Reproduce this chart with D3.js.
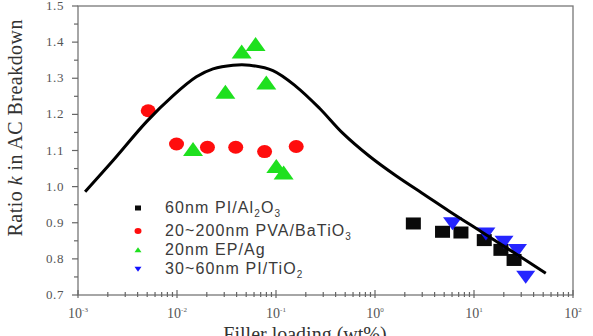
<!DOCTYPE html>
<meta charset="utf-8">
<style>
body { margin: 0; background: #fff; }
.tick-label { font-family: "Liberation Serif", "Times New Roman", serif; font-size: 13px; fill: #555; }
.axis-title { font-family: "Liberation Serif", "Times New Roman", serif; font-size: 20px; fill: #333; }
.legend text { font-family: "Liberation Sans", Arial, sans-serif; font-size: 16px; letter-spacing: 1.1px; fill: #3a3a3a; }
</style>
<svg width="593" height="336"></svg>
<script src="https://d3js.org/d3.v7.min.js"></script>
<script>

// fitted curve
var curveX = [0.00118, 0.00227, 0.00493, 0.00914, 0.0157, 0.0231, 0.0368, 0.0542, 0.0931, 0.160, 0.275, 0.472, 0.879, 1.63, 3.27, 5.62, 12.2, 26.4, 53.1];
var curveY = [0.986, 1.073, 1.180, 1.252, 1.304, 1.326, 1.336, 1.336, 1.321, 1.277, 1.217, 1.148, 1.084, 1.030, 0.975, 0.932, 0.873, 0.814, 0.760];

// 60nm PI/Al2O3
var alX = [2.44, 4.81, 7.38, 12.7, 18.7, 25.4];
var alY = [0.898, 0.875, 0.873, 0.852, 0.825, 0.797];
// 20~200nm PVA/BaTiO3
var baX = [0.00512, 0.00989, 0.0203, 0.0392, 0.0767, 0.160];
var baY = [1.210, 1.118, 1.109, 1.109, 1.097, 1.111];
// 20nm EP/Ag
var agX = [0.0450, 0.0622, 0.0308, 0.0798, 0.01452, 0.1007, 0.1194];
var agY = [1.372, 1.393, 1.261, 1.286, 1.102, 1.055, 1.037];
// 30~60nm PI/TiO2
var tiX = [6.07, 13.2, 20.1, 27.5, 33.3];
var tiY = [0.899, 0.871, 0.848, 0.825, 0.751];

var yTicks = [0.7, 0.8, 0.9, 1.0, 1.1, 1.2, 1.3, 1.4, 1.5];
var xExponents = [-3, -2, -1, 0, 1, 2];

var svg = d3.select("svg");

var x = d3.scaleLog().domain([1e-3, 1e2]).range([78, 573]);
var y = d3.scaleLinear().domain([0.7, 1.5]).range([295, 6]);

// frame
svg.append("rect")
    .attr("x", 78).attr("y", 6)
    .attr("width", 573 - 78).attr("height", 295 - 6)
    .attr("fill", "none").attr("stroke", "#777").attr("stroke-width", 1.3);

// y ticks (major + minor), outward
var yg = svg.append("g").attr("stroke", "#666").attr("stroke-width", 1.2);
d3.range(0.7, 1.5001, 0.05).forEach(function(v) {
  var major = Math.abs(Math.round(v * 10) - v * 10) < 1e-6;
  yg.append("line")
      .attr("x1", 78 - (major ? 6 : 4)).attr("x2", 78)
      .attr("y1", y(v)).attr("y2", y(v));
});
svg.selectAll(".ylab")
    .data(yTicks).enter()
    .append("text")
    .attr("class", "tick-label")
    .attr("x", 64).attr("y", function(d) { return y(d) + 4; })
    .attr("text-anchor", "end")
    .attr("letter-spacing", "0.6px")
    .text(function(d) { return d.toFixed(1); });

// x ticks (major + minor), crossing the axis
var xg = svg.append("g").attr("stroke", "#666").attr("stroke-width", 1.2);
xExponents.forEach(function(e) {
  for (var m = 1; m <= 9; m++) {
    if (e === 2 && m > 1) break;
    var v = m * Math.pow(10, e);
    xg.append("line")
        .attr("x1", x(v)).attr("x2", x(v))
        .attr("y1", 295 - (m === 1 ? 5 : 3)).attr("y2", 295 + (m === 1 ? 3 : 2));
  }
});
var xl = svg.selectAll(".xlab")
    .data(xExponents).enter()
    .append("text")
    .attr("class", "tick-label")
    .attr("x", function(d) { return x(Math.pow(10, d)); })
    .attr("y", 318)
    .attr("text-anchor", "middle");
xl.append("tspan").attr("font-size", "14px").text("10");
xl.append("tspan").attr("dy", -6).attr("font-size", "7px").text(function(d) { return d; });

// axis titles
svg.append("text")
    .attr("class", "axis-title")
    .attr("transform", "translate(22,128) rotate(-90)")
    .attr("text-anchor", "middle")
    .attr("textLength", 217)
    .html('Ratio <tspan font-style="italic">k</tspan> in AC Breakdown');
svg.append("text")
    .attr("class", "axis-title")
    .attr("x", 305).attr("y", 341)
    .attr("text-anchor", "middle")
    .text("Filler loading (wt%)");

// marker shapes
function tri(w, h, down) {
  var s = down ? -1 : 1;
  return "M0," + (-s * h * 0.55) + "L" + (w / 2) + "," + (s * h * 0.45) + "L" + (-w / 2) + "," + (s * h * 0.45) + "Z";
}

// PVA/BaTiO3 circles
svg.append("g").selectAll("ellipse")
    .data(d3.zip(baX, baY)).enter()
    .append("ellipse")
    .attr("cx", function(d) { return x(d[0]); })
    .attr("cy", function(d) { return y(d[1]); })
    .attr("rx", 7.5).attr("ry", 6.5)
    .attr("fill", "#ff0d0d");

// EP/Ag triangles
svg.append("g").selectAll("path")
    .data(d3.zip(agX, agY)).enter()
    .append("path")
    .attr("d", tri(20, 14, false))
    .attr("transform", function(d) { return "translate(" + x(d[0]) + "," + y(d[1]) + ")"; })
    .attr("fill", "#1ee01e");

// PI/Al2O3 squares
svg.append("g").selectAll("rect")
    .data(d3.zip(alX, alY)).enter()
    .append("rect")
    .attr("x", function(d) { return x(d[0]) - 7.5; })
    .attr("y", function(d) { return y(d[1]) - 6; })
    .attr("width", 15).attr("height", 12)
    .attr("fill", "#0a0a0a");

// PI/TiO2 down triangles
svg.append("g").selectAll("path")
    .data(d3.zip(tiX, tiY)).enter()
    .append("path")
    .attr("d", tri(19, 13, true))
    .attr("transform", function(d) { return "translate(" + x(d[0]) + "," + y(d[1]) + ")"; })
    .attr("fill", "#1212ff")
    .attr("fill-opacity", 0.92);

// fitted curve
var line = d3.line()
    .x(function(d) { return x(d[0]); })
    .y(function(d) { return y(d[1]); })
    .curve(d3.curveCatmullRom.alpha(0.5));
svg.append("path")
    .datum(d3.zip(curveX, curveY))
    .attr("d", line)
    .attr("fill", "none")
    .attr("stroke", "#000")
    .attr("stroke-width", 3);

// legend
var legendRows = [
  { y: 208, color: "#0a0a0a", shape: "square", html: '60nm PI/Al<tspan dy="4" font-size="10px">2</tspan><tspan dy="-4">O</tspan><tspan dy="4" font-size="10px">3</tspan>' },
  { y: 231, color: "#ff0d0d", shape: "circle", html: '20~200nm PVA/BaTiO<tspan dy="4" font-size="10px">3</tspan>' },
  { y: 250, color: "#1ee01e", shape: "up", html: '20nm EP/Ag' },
  { y: 269, color: "#1212ff", shape: "down", html: '30~60nm PI/TiO<tspan dy="4" font-size="10px">2</tspan>' }
];
var lg = svg.append("g").attr("class", "legend");
legendRows.forEach(function(r) {
  if (r.shape === "square") {
    lg.append("rect").attr("x", 135).attr("y", r.y - 2.5).attr("width", 6).attr("height", 5).attr("fill", r.color);
  } else if (r.shape === "circle") {
    lg.append("ellipse").attr("cx", 138).attr("cy", r.y).attr("rx", 3.5).attr("ry", 3).attr("fill", r.color);
  } else {
    lg.append("path").attr("d", tri(7, 5, r.shape === "down"))
        .attr("transform", "translate(138," + r.y + ")").attr("fill", r.color);
  }
  lg.append("text").attr("x", 165).attr("y", r.y + 5).html(r.html);
});
</script>
